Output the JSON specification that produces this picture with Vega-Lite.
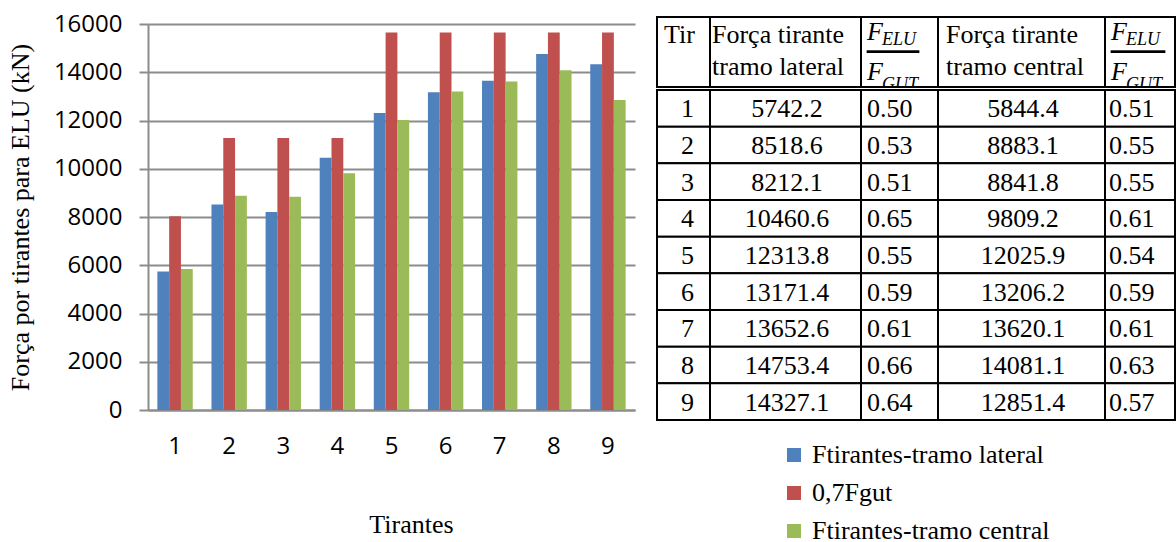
{
  "$schema": "https://vega.github.io/schema/vega-lite/v6.json",
  "padding": {"left": 7, "top": 12, "right": 0, "bottom": 0},
  "background": "white",
  "config": {
    "view": {"stroke": null},
    "text": {"font": "Liberation Serif", "fontSize": 26, "color": "black"}
  },
  "datasets": {
    "tab": [
      {"tir": 1, "lat": 5742.2, "rlat": 0.50, "cen": 5844.4, "rcen": 0.51, "gut": 8036},
      {"tir": 2, "lat": 8518.6, "rlat": 0.53, "cen": 8883.1, "rcen": 0.55, "gut": 11270},
      {"tir": 3, "lat": 8212.1, "rlat": 0.51, "cen": 8841.8, "rcen": 0.55, "gut": 11270},
      {"tir": 4, "lat": 10460.6, "rlat": 0.65, "cen": 9809.2, "rcen": 0.61, "gut": 11270},
      {"tir": 5, "lat": 12313.8, "rlat": 0.55, "cen": 12025.9, "rcen": 0.54, "gut": 15650},
      {"tir": 6, "lat": 13171.4, "rlat": 0.59, "cen": 13206.2, "rcen": 0.59, "gut": 15650},
      {"tir": 7, "lat": 13652.6, "rlat": 0.61, "cen": 13620.1, "rcen": 0.61, "gut": 15650},
      {"tir": 8, "lat": 14753.4, "rlat": 0.66, "cen": 14081.1, "rcen": 0.63, "gut": 15650},
      {"tir": 9, "lat": 14327.1, "rlat": 0.64, "cen": 12851.4, "rcen": 0.57, "gut": 15650}
    ],
    "hdr": [
      {"col": "tir", "t": "Tir"},
      {"col": "lat", "t": "Força tirante\ntramo lateral"},
      {"col": "r1", "num": "F", "sub": "ELU", "den": "F", "sub2": "GUT", "bar": "—"},
      {"col": "cen", "t": "Força tirante\ntramo central"},
      {"col": "r2", "num": "F", "sub": "ELU", "den": "F", "sub2": "GUT", "bar": "—"}
    ]
  },
  "spacing": 21,
  "hconcat": [
    {
      "width": 487,
      "height": 393,
      "data": {"name": "tab"},
      "transform": [{"fold": ["lat", "gut", "cen"], "as": ["serie", "forca"]}],
      "mark": {"type": "bar"},
      "encoding": {
        "x": {
          "field": "tir", "type": "ordinal",
          "scale": {"paddingInner": 0.346, "paddingOuter": 0.173},
          "axis": {
            "title": "Tirantes", "titleFont": "Liberation Serif", "titleFontSize": 26,
            "titleFontWeight": "normal", "titleColor": "black", "titlePadding": 53, "titleX": 263,
            "labelAngle": 0, "labelFont": "Open Sans", "labelFontSize": 24, "labelColor": "black",
            "labelPadding": 24, "ticks": false, "tickSize": 0,
            "domainColor": "#8c8c8c", "domainWidth": 2
          }
        },
        "xOffset": {"field": "serie", "type": "nominal", "scale": {"domain": ["lat", "gut", "cen"], "paddingInner": 0, "paddingOuter": 0}},
        "y": {
          "field": "forca", "type": "quantitative",
          "scale": {"domain": [0, 16000], "nice": false, "range": [393, 7]},
          "axis": {
            "values": [0, 2000, 4000, 6000, 8000, 10000, 12000, 14000, 16000],
            "format": "d",
            "grid": true, "gridColor": "#8c8c8c", "gridWidth": 2,
            "domainColor": "#8c8c8c", "domainWidth": 2,
            "tickColor": "#8c8c8c", "tickWidth": 2, "tickSize": 9,
            "labelFont": "Open Sans", "labelFontSize": 24, "labelColor": "black",
            "labelPadding": 17, "labelFlush": false, "labelOverlap": false,
            "title": "Força por tirantes para ELU (kN)", "titleFont": "Liberation Serif",
            "titleFontSize": 26, "titleFontWeight": "normal", "titleColor": "black", "titlePadding": 20
          }
        },
        "color": {
          "field": "serie", "type": "nominal",
          "scale": {"domain": ["lat", "gut", "cen"], "range": ["#4F81BD", "#C0504D", "#9BBB59"]},
          "legend": {
            "title": null, "orient": "none", "legendX": 633, "legendY": 425, "direction": "vertical",
            "padding": 0, "symbolType": "square", "symbolSize": 196, "symbolStrokeWidth": 0,
            "symbolOpacity": 1, "labelFont": "Liberation Serif", "labelFontSize": 26,
            "labelColor": "black", "labelOffset": 5, "labelLimit": 400, "rowPadding": 12,
            "labelExpr": "datum.label == 'lat' ? 'Ftirantes-tramo lateral' : datum.label == 'gut' ? '0,7Fgut' : 'Ftirantes-tramo central'"
          }
        }
      }
    },
    {
      "columns": 5,
      "spacing": {"row": 3, "column": 0},
      "bounds": "flush",
      "concat": [
        {
          "width": 53, "height": 70,
          "data": {"name": "hdr"},
          "transform": [{"filter": "datum.col == 'tir'"}],
          "layer": [
            {"mark": {"type": "text", "baseline": "alphabetic", "align": "center", "dx": -4, "dy": -9}, "encoding": {"text": {"field": "t"}}},
            {"mark": {"type": "rect", "fill": "white", "fillOpacity": 0, "stroke": "black", "strokeWidth": 2}, "encoding": {}}
          ]
        },
        {
          "width": 151, "height": 70,
          "data": {"name": "hdr"},
          "transform": [{"filter": "datum.col == 'lat'"}],
          "layer": [
            {"mark": {"type": "text", "baseline": "alphabetic", "align": "left", "lineBreak": "\n", "lineHeight": 32, "dx": -73.5, "dy": -9}, "encoding": {"text": {"field": "t"}}},
            {"mark": {"type": "rect", "fill": "white", "fillOpacity": 0, "stroke": "black", "strokeWidth": 2}, "encoding": {}}
          ]
        },
        {
          "width": 77, "height": 70,
          "data": {"name": "hdr"},
          "transform": [{"filter": "datum.col == 'r1'"}],
          "layer": [
            {"mark": {"type": "text", "clip": true, "fontStyle": "italic", "baseline": "alphabetic", "align": "left", "dx": -32.5, "dy": -12}, "encoding": {"text": {"field": "num"}}},
            {"mark": {"type": "text", "clip": true, "fontStyle": "italic", "fontSize": 18, "baseline": "alphabetic", "align": "left", "dx": -17.5, "dy": -7}, "encoding": {"text": {"field": "sub"}}},
            {"mark": {"type": "text", "clip": true, "fontSize": 52, "baseline": "alphabetic", "align": "left", "dx": -32.5, "dy": 11.5}, "encoding": {"text": {"field": "bar"}}},
            {"mark": {"type": "text", "clip": true, "fontStyle": "italic", "baseline": "alphabetic", "align": "left", "dx": -32.5, "dy": 28}, "encoding": {"text": {"field": "den"}}},
            {"mark": {"type": "text", "clip": true, "fontStyle": "italic", "fontSize": 18, "baseline": "alphabetic", "align": "left", "dx": -17.5, "dy": 38}, "encoding": {"text": {"field": "sub2"}}},
            {"mark": {"type": "rect", "fill": "white", "fillOpacity": 0, "stroke": "black", "strokeWidth": 2}, "encoding": {}}
          ]
        },
        {
          "width": 167, "height": 70,
          "data": {"name": "hdr"},
          "transform": [{"filter": "datum.col == 'cen'"}],
          "layer": [
            {"mark": {"type": "text", "baseline": "alphabetic", "align": "left", "lineBreak": "\n", "lineHeight": 32, "dx": -75.5, "dy": -9}, "encoding": {"text": {"field": "t"}}},
            {"mark": {"type": "rect", "fill": "white", "fillOpacity": 0, "stroke": "black", "strokeWidth": 2}, "encoding": {}}
          ]
        },
        {
          "width": 70, "height": 70,
          "data": {"name": "hdr"},
          "transform": [{"filter": "datum.col == 'r2'"}],
          "layer": [
            {"mark": {"type": "text", "clip": true, "fontStyle": "italic", "baseline": "alphabetic", "align": "left", "dx": -29, "dy": -12}, "encoding": {"text": {"field": "num"}}},
            {"mark": {"type": "text", "clip": true, "fontStyle": "italic", "fontSize": 18, "baseline": "alphabetic", "align": "left", "dx": -14, "dy": -7}, "encoding": {"text": {"field": "sub"}}},
            {"mark": {"type": "text", "clip": true, "fontSize": 54, "baseline": "alphabetic", "align": "left", "dx": -29, "dy": 11.5}, "encoding": {"text": {"field": "bar"}}},
            {"mark": {"type": "text", "clip": true, "fontStyle": "italic", "baseline": "alphabetic", "align": "left", "dx": -29, "dy": 28}, "encoding": {"text": {"field": "den"}}},
            {"mark": {"type": "text", "clip": true, "fontStyle": "italic", "fontSize": 18, "baseline": "alphabetic", "align": "left", "dx": -14, "dy": 38}, "encoding": {"text": {"field": "sub2"}}},
            {"mark": {"type": "rect", "fill": "white", "fillOpacity": 0, "stroke": "black", "strokeWidth": 2}, "encoding": {}}
          ]
        },
        {
          "width": 53, "height": 330,
          "data": {"name": "tab"},
          "encoding": {"y": {"field": "tir", "type": "ordinal", "axis": null, "scale": {"paddingInner": 0, "paddingOuter": 0}}},
          "layer": [
            {"mark": {"type": "rect", "fill": "white", "stroke": "black", "strokeWidth": 2}},
            {"mark": {"type": "text", "baseline": "middle", "align": "center", "dx": 4, "dy": 1}, "encoding": {"text": {"field": "tir", "type": "nominal"}}}
          ]
        },
        {
          "width": 151, "height": 330,
          "data": {"name": "tab"},
          "encoding": {"y": {"field": "tir", "type": "ordinal", "axis": null, "scale": {"paddingInner": 0, "paddingOuter": 0}}},
          "layer": [
            {"mark": {"type": "rect", "fill": "white", "stroke": "black", "strokeWidth": 2}},
            {"mark": {"type": "text", "baseline": "middle", "align": "center", "dx": 1.5, "dy": 1}, "encoding": {"text": {"field": "lat", "type": "quantitative", "format": ".1f"}}}
          ]
        },
        {
          "width": 77, "height": 330,
          "data": {"name": "tab"},
          "encoding": {"y": {"field": "tir", "type": "ordinal", "axis": null, "scale": {"paddingInner": 0, "paddingOuter": 0}}},
          "layer": [
            {"mark": {"type": "rect", "fill": "white", "stroke": "black", "strokeWidth": 2}},
            {"mark": {"type": "text", "baseline": "middle", "align": "left", "dx": -32.5, "dy": 1}, "encoding": {"text": {"field": "rlat", "type": "quantitative", "format": ".2f"}}}
          ]
        },
        {
          "width": 167, "height": 330,
          "data": {"name": "tab"},
          "encoding": {"y": {"field": "tir", "type": "ordinal", "axis": null, "scale": {"paddingInner": 0, "paddingOuter": 0}}},
          "layer": [
            {"mark": {"type": "rect", "fill": "white", "stroke": "black", "strokeWidth": 2}},
            {"mark": {"type": "text", "baseline": "middle", "align": "center", "dx": 1.5, "dy": 1}, "encoding": {"text": {"field": "cen", "type": "quantitative", "format": ".1f"}}}
          ]
        },
        {
          "width": 70, "height": 330,
          "data": {"name": "tab"},
          "encoding": {"y": {"field": "tir", "type": "ordinal", "axis": null, "scale": {"paddingInner": 0, "paddingOuter": 0}}},
          "layer": [
            {"mark": {"type": "rect", "fill": "white", "stroke": "black", "strokeWidth": 2}},
            {"mark": {"type": "text", "baseline": "middle", "align": "left", "dx": -31, "dy": 1}, "encoding": {"text": {"field": "rcen", "type": "quantitative", "format": ".2f"}}}
          ]
        }
      ]
    }
  ]
}
